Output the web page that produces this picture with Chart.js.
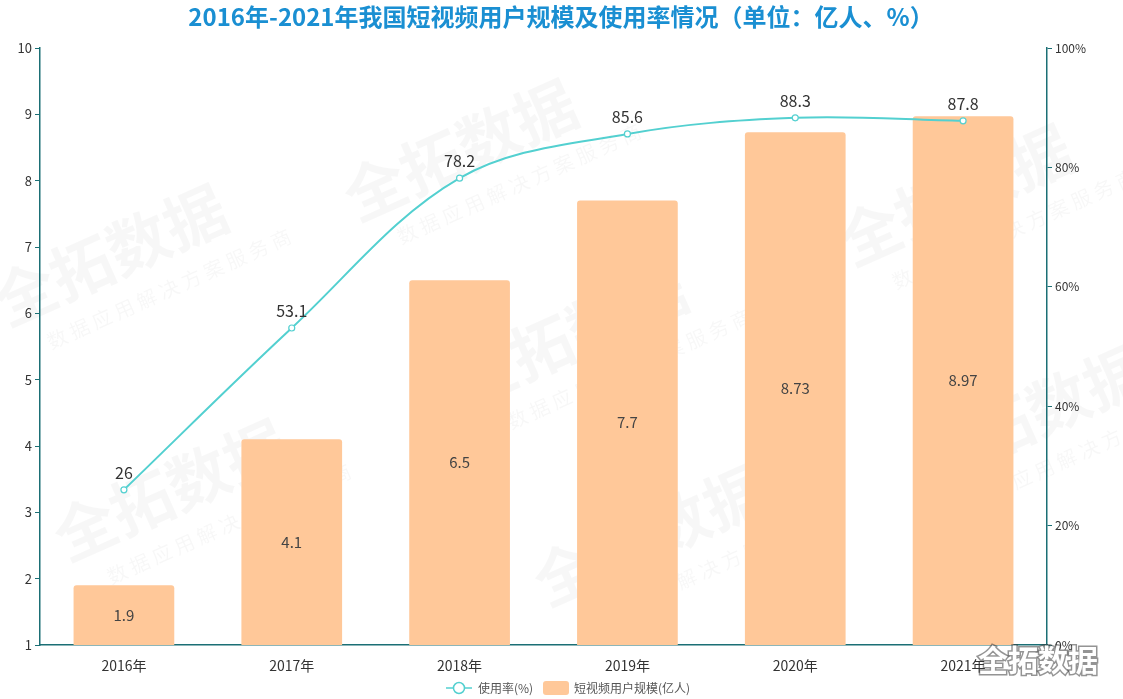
<!DOCTYPE html>
<html>
<head>
<meta charset="utf-8">
<script src="https://cdn.jsdelivr.net/npm/chart.js@4.4.1/dist/chart.umd.min.js"></script>
<style>
  html, body { margin: 0; padding: 0; background: #fff; }
  #wrap { width: 1123px; height: 699px; position: relative; }
</style>
</head>
<body>
<div id="wrap"><canvas id="chart"></canvas></div>
<script>
// 2016-2021 short video users and usage rate
const years = ['2016年', '2017年', '2018年', '2019年', '2020年', '2021年'];
const users = [1.9, 4.1, 6.5, 7.7, 8.73, 8.97];      // 亿人
const usageRate = [26, 53.1, 78.2, 85.6, 88.3, 87.8]; // %

const FONT = "'Noto Sans CJK SC', 'Noto Sans', sans-serif";
const axisColor = '#1b6f75';
const barColor = '#ffc899';
const lineColor = '#53d0d0';

// watermark positions (centre of the big text)
const marks = [
  { x: 460, y: 150 }, { x: 110, y: 255 }, { x: 570, y: 335 },
  { x: 955, y: 195 }, { x: 170, y: 490 }, { x: 650, y: 535 },
  { x: 1030, y: 415 }
];

// Draw title, watermarks, labels and legend by hand
const decor = {
  id: 'decor',
  beforeDraw(chart) {
    const ctx = chart.ctx;
    ctx.save();
    marks.forEach(m => {
      ctx.save();
      ctx.translate(m.x, m.y);
      ctx.rotate(-0.42);
      ctx.fillStyle = 'rgba(0,0,0,0.032)';
      ctx.textAlign = 'center';
      ctx.textBaseline = 'middle';
      ctx.font = 'bold 62px ' + FONT;
      ctx.fillText('全拓数据', 0, 0);
      ctx.font = '20px ' + FONT;
      ctx.fillText('数 据 应 用 解 决 方 案 服 务 商', 40, 55);
      ctx.restore();
    });
    ctx.restore();
  },
  afterDatasetsDraw(chart) {
    const ctx = chart.ctx;
    const bottom = chart.chartArea.bottom;
    ctx.save();
    ctx.textAlign = 'center';
    ctx.textBaseline = 'middle';
    ctx.fillStyle = '#444';

    // bar value labels (middle of the visible bar)
    ctx.font = '15px ' + FONT;
    chart.getDatasetMeta(1).data.forEach((bar, i) => {
      ctx.fillText(users[i], bar.x, (bar.y + Math.min(bar.base, bottom)) / 2);
    });

    // line value labels (above point)
    ctx.font = '16px ' + FONT;
    ctx.fillStyle = '#333';
    chart.getDatasetMeta(0).data.forEach((pt, i) => {
      ctx.fillText(usageRate[i], pt.x, pt.y - 17);
    });
    ctx.restore();
  },
  afterDraw(chart) {
    const ctx = chart.ctx;
    ctx.save();

    // title
    ctx.textAlign = 'center';
    ctx.textBaseline = 'middle';
    ctx.fillStyle = '#1a8fd2';
    ctx.font = 'bold 24px ' + FONT;
    ctx.fillText('2016年-2021年我国短视频用户规模及使用率情况（单位：亿人、%）', 561, 17);

    // legend
    const ly = 688;
    ctx.strokeStyle = lineColor;
    ctx.lineWidth = 1.5;
    ctx.beginPath();
    ctx.moveTo(446, ly); ctx.lineTo(472, ly);
    ctx.stroke();
    ctx.beginPath();
    ctx.arc(459, ly, 5.5, 0, Math.PI * 2);
    ctx.fillStyle = '#fff';
    ctx.fill();
    ctx.stroke();
    ctx.fillStyle = '#555';
    ctx.textAlign = 'left';
    ctx.font = '12px ' + FONT;
    ctx.fillText('使用率(%)', 478, ly);
    ctx.fillStyle = barColor;
    ctx.beginPath();
    ctx.roundRect(543, ly - 7, 26, 14, 3);
    ctx.fill();
    ctx.fillStyle = '#555';
    ctx.fillText('短视频用户规模(亿人)', 574, ly);

    // bottom-right stamp
    ctx.font = 'bold 30px ' + FONT;
    ctx.textAlign = 'center';
    ctx.lineWidth = 3;
    ctx.strokeStyle = 'rgba(60,60,60,0.55)';
    ctx.strokeText('全拓数据', 1038, 660);
    ctx.fillStyle = '#fff';
    ctx.fillText('全拓数据', 1038, 660);
    ctx.restore();
  }
};

Chart.defaults.font.family = FONT;
Chart.defaults.color = '#333';

new Chart(document.getElementById('chart'), {
  data: {
    labels: years,
    datasets: [
      {
        type: 'line',
        label: '使用率(%)',
        data: usageRate,
        yAxisID: 'y1',
        borderColor: lineColor,
        borderWidth: 2,
        tension: 0.35,
        pointRadius: 3,
        pointBorderWidth: 1.2,
        pointBackgroundColor: '#fff',
        pointBorderColor: lineColor,
        order: 0
      },
      {
        type: 'bar',
        label: '短视频用户规模(亿人)',
        data: users,
        yAxisID: 'y',
        backgroundColor: barColor,
        borderRadius: { topLeft: 3, topRight: 3 },
        borderSkipped: 'bottom',
        categoryPercentage: 0.6,
        barPercentage: 1.0,
        order: 1
      }
    ]
  },
  options: {
    responsive: true,
    maintainAspectRatio: false,
    animation: false,
    layout: { padding: { top: 48, bottom: 24, left: 0, right: 0 } },
    plugins: {
      legend: { display: false },
      title: { display: false },
      tooltip: { enabled: false }
    },
    scales: {
      x: {
        grid: { display: false },
        border: { color: axisColor, width: 1.5 },
        ticks: { font: { size: 14 }, color: '#333', padding: 4 },
        afterFit(s) { s.height = 30; }
      },
      y: {
        position: 'left',
        min: 1,
        max: 10,
        ticks: { stepSize: 1, font: { size: 13 }, color: '#333', padding: 3 },
        grid: { drawOnChartArea: false, color: axisColor, tickLength: 5 },
        border: { color: axisColor, width: 1.5 },
        afterFit(s) { s.width = 40; }
      },
      y1: {
        position: 'right',
        min: 0,
        max: 100,
        ticks: { stepSize: 20, font: { size: 12 }, color: '#333', padding: 3, callback: v => v + '%' },
        grid: { drawOnChartArea: false, color: axisColor, tickLength: 5 },
        border: { color: axisColor, width: 1.5 },
        afterFit(s) { s.width = 76; }
      }
    }
  },
  plugins: [decor]
});
</script>
</body>
</html>
